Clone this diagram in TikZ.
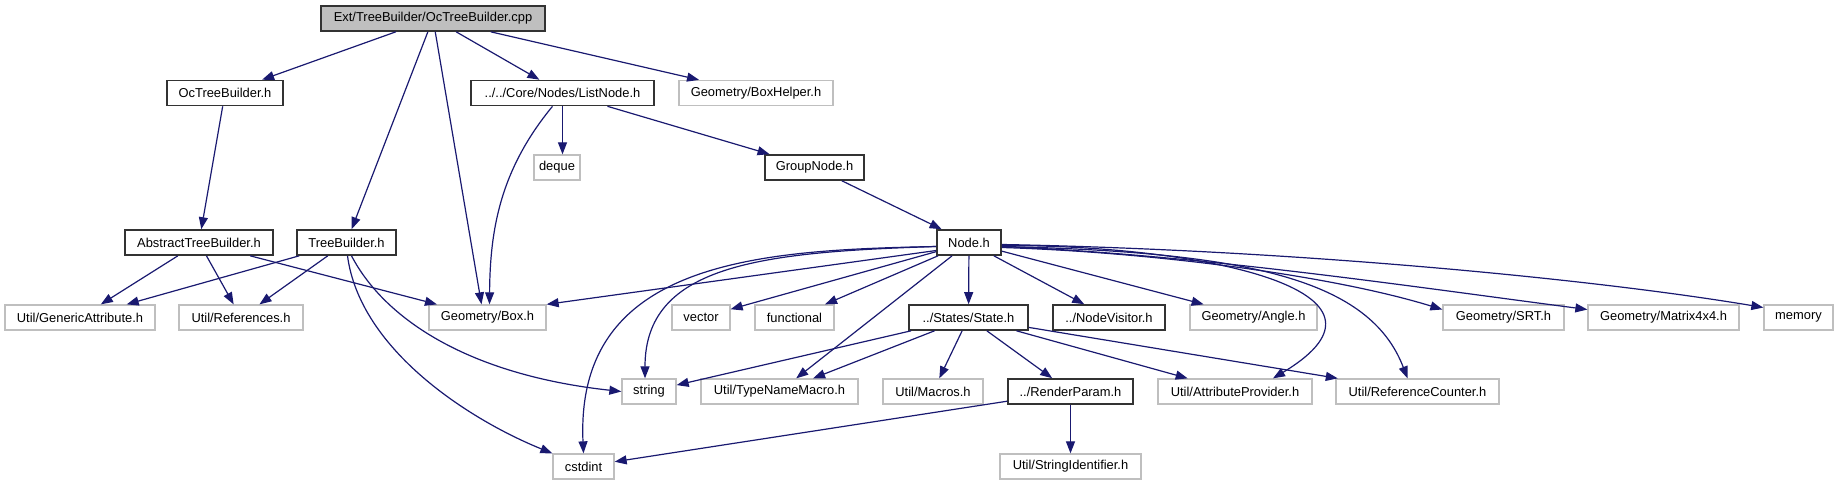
\documentclass[tikz,border=0pt]{standalone}
\usepackage{fontspec}
\setmainfont{Liberation Sans}
\usetikzlibrary{arrows.meta}
\definecolor{edgeblue}{RGB}{25,25,112}
\definecolor{extgray}{RGB}{191,191,191}
\definecolor{rootfill}{RGB}{191,191,191}
\begin{document}
\begin{tikzpicture}[x=1pt,y=-1pt,
  base/.style={rectangle, minimum height=25pt, inner sep=0pt, font=\fontsize{12.9}{14}\selectfont, text=black},
  docbox/.style={base, draw=black!80, line width=1.6pt},
  extbox/.style={base, draw=extgray, line width=1.3pt},
  rootbox/.style={docbox, fill=rootfill},
  dep/.style={draw=edgeblue, line width=1.2pt, -{Triangle[length=12pt,width=9pt]}},
]
\useasboundingbox (0,0) rectangle (1839,485);
% row 1
\node[rootbox, minimum width=224pt] (root) at (433,18.5) {Ext/TreeBuilder/OcTreeBuilder.cpp};
% row 2
\node[docbox, minimum width=116pt] (oc) at (225,93) {OcTreeBuilder.h};
\node[docbox, minimum width=183pt] (listnode) at (562.5,93) {../../Core/Nodes/ListNode.h};
\node[extbox, minimum width=154pt] (boxhelper) at (756,93) {Geometry/BoxHelper.h};
% row 3
\node[extbox, minimum width=46pt] (deque) at (557,167.5) {deque};
\node[docbox, minimum width=99pt] (group) at (814.5,167.5) {GroupNode.h};
% row 4
\node[docbox, minimum width=148pt] (abstract) at (199,242.5) {AbstractTreeBuilder.h};
\node[docbox, minimum width=99pt] (tb) at (346.5,242.5) {TreeBuilder.h};
\node[docbox, minimum width=64pt] (node) at (969,242.5) {Node.h};
% row 5
\node[extbox, minimum width=150pt] (generic) at (80,317.5) {Util/GenericAttribute.h};
\node[extbox, minimum width=124pt] (refs) at (241,317.5) {Util/References.h};
\node[extbox, minimum width=117pt] (box) at (487.5,317.5) {Geometry/Box.h};
\node[extbox, minimum width=58pt] (vector) at (701,317.5) {vector};
\node[extbox, minimum width=79pt] (functional) at (794.5,317.5) {functional};
\node[docbox, minimum width=119pt] (state) at (968.5,317.5) {../States/State.h};
\node[docbox, minimum width=112pt] (visitor) at (1109,317.5) {../NodeVisitor.h};
\node[extbox, minimum width=127pt] (angle) at (1253.5,317.5) {Geometry/Angle.h};
\node[extbox, minimum width=121pt] (srt) at (1503.5,317.5) {Geometry/SRT.h};
\node[extbox, minimum width=151pt] (matrix) at (1663.5,317.5) {Geometry/Matrix4x4.h};
\node[extbox, minimum width=69pt] (memory) at (1798.5,317.5) {memory};
% row 6
\node[extbox, minimum width=54pt] (string) at (649,391.5) {string};
\node[extbox, minimum width=157pt] (typename) at (779.5,391.5) {Util/TypeNameMacro.h};
\node[extbox, minimum width=100pt] (macros) at (933,391.5) {Util/Macros.h};
\node[docbox, minimum width=125pt] (render) at (1070.5,391.5) {../RenderParam.h};
\node[extbox, minimum width=154pt] (attrprov) at (1235,391.5) {Util/AttributeProvider.h};
\node[extbox, minimum width=163pt] (refcount) at (1417.5,391.5) {Util/ReferenceCounter.h};
% row 7
\node[extbox, minimum width=61pt] (cstdint) at (583.5,466.5) {cstdint};
\node[extbox, minimum width=141pt] (stringid) at (1070.5,466.5) {Util/StringIdentifier.h};

% edges from root
\draw[dep] (root) -- (oc);
\draw[dep] (root) -- (tb);
\draw[dep] (root) -- ([xshift=-6pt]box.north);
\draw[dep] (root) -- (listnode);
\draw[dep] (root) -- (boxhelper);
\draw[dep] (oc) -- (abstract);
% ListNode
\draw[dep] (listnode.south) -- (listnode.south |- deque.north);
\draw[dep] (listnode) -- (group);
\draw[dep] ([xshift=-10pt]listnode.south) .. controls (500,170) and (490,230) .. ([xshift=2pt]box.north);
\draw[dep] (group) -- (node);
% AbstractTreeBuilder, TreeBuilder
\draw[dep] (abstract) -- (generic);
\draw[dep] (abstract) -- (refs);
\draw[dep] (abstract) -- (box);
\draw[dep] (tb) -- (generic);
\draw[dep] (tb) -- (refs);
\draw[dep] ([xshift=5pt]tb.south) .. controls (385,320) and (470,375) .. (string.west);
\draw[dep] ([xshift=1pt]tb.south) .. controls (360,350) and (470,420) .. (cstdint.north west);
% Node.h
\draw[dep] ([yshift=-8pt]node.west) -- (box.north east);
\draw[dep] ([yshift=-4pt]node.west) .. controls (760,250) and (575,260) .. (cstdint.north);
\draw[dep] ([yshift=-4pt]node.west) .. controls (760,252) and (645,265) .. ([xshift=-4pt]string.north);
\draw[dep] (node) -- (vector);
\draw[dep] (node) -- (functional);
\draw[dep] (node) -- (typename);
\draw[dep] (node) -- (state);
\draw[dep] (node) -- (visitor);
\draw[dep] (node) -- (angle);
\draw[dep] ([yshift=-3pt]node.east) .. controls (1200,245) and (1420,290) .. ([xshift=38pt]attrprov.north);
\draw[dep] ([yshift=-4pt]node.east) .. controls (1250,252) and (1370,280) .. ([xshift=-10pt]refcount.north);
\draw[dep] ([yshift=-5pt]node.east) .. controls (1150,252) and (1330,275) .. ([yshift=8pt]srt.west);
\draw[dep] ([yshift=-4pt]node.east) .. controls (1200,255) and (1400,285) .. ([yshift=8pt]matrix.west);
\draw[dep] ([yshift=-2pt]node.east) .. controls (1300,250) and (1600,280) .. ([yshift=10pt]memory.west);
% State.h
\draw[dep] (state) -- (string);
\draw[dep] (state) -- (typename);
\draw[dep] (state) -- (macros);
\draw[dep] (state) -- (render);
\draw[dep] (state) -- (attrprov);
\draw[dep] (state) -- (refcount);
% RenderParam.h
\draw[dep] (render) -- (cstdint);
\draw[dep] (render) -- (stringid);
\end{tikzpicture}
\end{document}
